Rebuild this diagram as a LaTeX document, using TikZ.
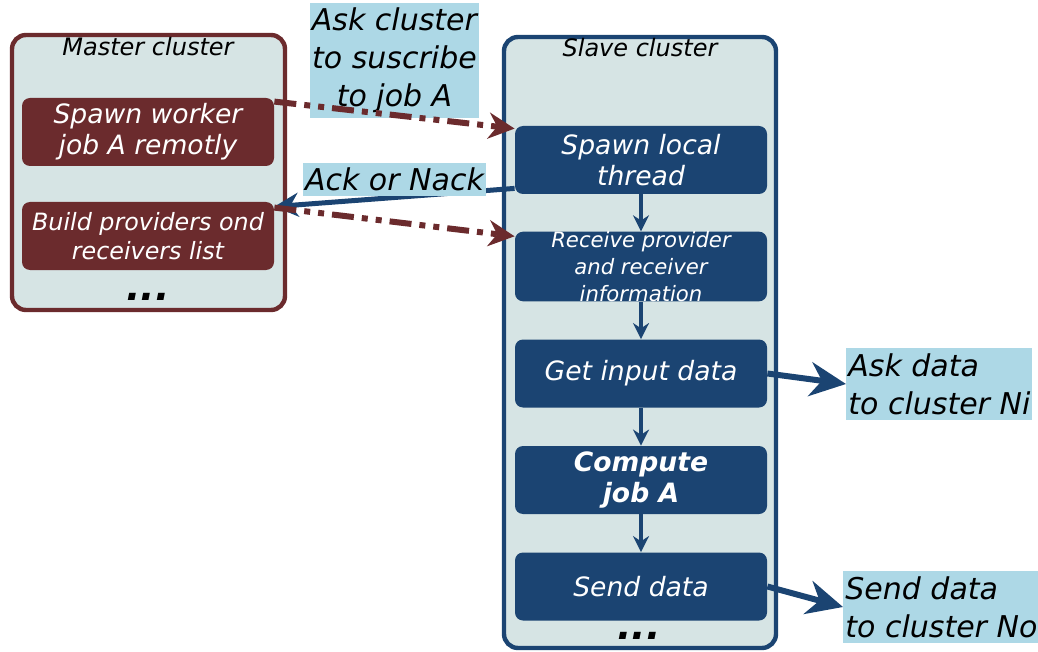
\documentclass[tikz,border=0pt]{standalone}
\usepackage{fontspec}
\setmainfont{DejaVu Sans}
\usetikzlibrary{arrows.meta}
\definecolor{masterred}{HTML}{6B2B2D}
\definecolor{slaveblue}{HTML}{1B4472}
\definecolor{clusterbg}{HTML}{D6E4E4}
\definecolor{notebg}{HTML}{ADD8E6}
\tikzset{
  cluster/.style={draw, line width=2.2pt, fill=clusterbg, rounded corners=7pt, inner sep=0pt},
  title/.style={font=\fontsize{12}{14}\selectfont\itshape},
  task/.style={fill=#1, text=white, rounded corners=4pt, minimum width=126pt, minimum height=34pt,
    inner sep=0pt, align=center, font=\fontsize{13.3}{15.5}\selectfont\itshape},
  note/.style={fill=notebg, inner xsep=1pt, inner ysep=2.5pt, font=\fontsize{15}{19}\selectfont\itshape},
  dots/.style={font=\fontsize{19}{19}\selectfont\bfseries\itshape, inner sep=0pt},
  request/.style={masterred, line width=3pt,
    dash pattern=on 11pt off 4pt on 3pt off 4pt on 3pt off 4pt,
    -{Stealth[length=13pt,width=13pt]}},
  reply/.style={slaveblue, line width=2.5pt, -{Stealth[length=12pt,width=12pt]}},
  flow/.style={slaveblue, line width=1.6pt, -{Stealth[length=8pt,width=8pt]}},
  outflow/.style={slaveblue, line width=3pt, -{Stealth[length=18pt,width=17pt]}}
}
\begin{document}
\begin{tikzpicture}[x=0.5pt, y=-0.5pt]
  \useasboundingbox (0,0) rectangle (1038,652);
  \node[cluster, draw=masterred, minimum width=136.5pt, minimum height=137.5pt] (master) at (148.5,172.5) {};
  \node[cluster, draw=slaveblue, minimum width=136pt, minimum height=305.5pt] (slave) at (640,342.5) {};
  \node[title] (mtitle) at (148,47) {Master cluster};
  \node[title] (stitle) at (640,48) {Slave cluster};

  \node[task=masterred] (worker) at (148,132) {Spawn worker\\job A remotly};
  \node[task=masterred, font=\fontsize{11.9}{14.5}\selectfont\itshape] (build) at (148,236) {Build providers ond\\receivers list};
  \node[dots] (mdots) at (148,297) {...};

  \node[task=slaveblue] (thread) at (641,160) {Spawn local\\thread};
  \node[task=slaveblue, font=\fontsize{10.6}{13.3}\selectfont\itshape] (receive) at (641,266.5) {Receive provider\\and receiver\\information};
  \node[task=slaveblue] (input) at (641,373.5) {Get input data};
  \node[task=slaveblue, font=\fontsize{13.3}{15.5}\selectfont\bfseries\itshape] (compute) at (641,480) {Compute\\job A};
  \node[task=slaveblue] (send) at (641,586.5) {Send data};
  \node[dots] (sdots) at (639,635.5) {...};

  \node[note, align=center] (subscribe) at (394.5,60.5) {Ask cluster\\to suscribe\\to job A};
  \node[note, align=left, anchor=west] (askdata) at (846,384) {Ask data\\to cluster Ni};
  \node[note, align=left, anchor=west] (senddata) at (843,607) {Send data\\to cluster No};

  \draw[request] ([yshift=-2pt]worker.north east) -- ([yshift=-1.5pt]thread.north west);
  \draw[reply] ([yshift=3pt]thread.south west) -- ([yshift=-2.5pt]build.north east);
  \draw[request] ([yshift=-3pt]build.north east) -- ([yshift=-2.5pt]receive.north west);
  \node[note] (ack) at (394.5,179.5) {Ack or Nack};

  \draw[flow] (thread) -- (receive);
  \draw[flow] (receive) -- (input);
  \draw[flow] (input) -- (compute);
  \draw[flow] (compute) -- (send);
  \draw[outflow] (input.east) -- (askdata.west);
  \draw[outflow] (send.east) -- (senddata.west);
\end{tikzpicture}
\end{document}
